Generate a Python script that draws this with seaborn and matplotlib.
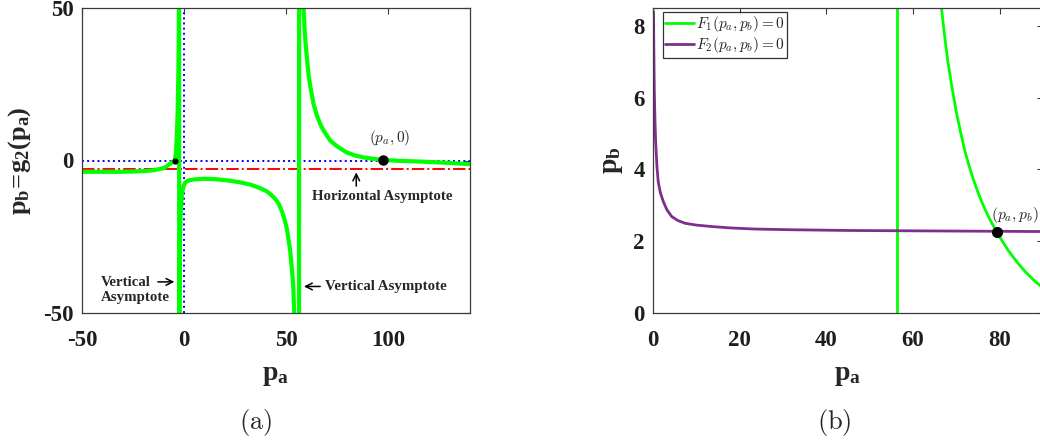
import matplotlib
matplotlib.use("Agg")
import matplotlib.pyplot as plt
from matplotlib.font_manager import FontProperties
import seaborn as sns
import pandas as pd

# ---------------- data ----------------
# panel (a): p_b = g2(p_a)
g2_pa = [-50, -40, -30, -20, -15, -10, -8.5, -6.5, -5.2, -4.6, -4.0, -3.6, -3.2,
         -2.8, -2.6, -2.45,
         -2.4, -2.3, -2.2, -2.0, -1.8, -1.6, -1.3, -1.0, -0.6, 0.0, 0.5, 1.2,
         2.0, 2.9, 5.0, 9.5, 15, 20.9, 27, 32.4, 37, 40.5, 42, 43.5, 44.5, 45.4,
         46.4, 47.2, 48.0, 48.7, 49.4, 50.0, 50.6, 51.1, 51.6, 52.0, 52.4, 52.8,
         53.2, 53.5, 53.9, 55.0, 56.2,
         56.4, 57.5, 58.5, 59.0, 59.5, 60.0, 60.9, 62, 63.4, 65, 66.7, 68, 69.5,
         71.6, 75, 79.7, 84, 87.9, 92, 97.4, 105, 117.3, 130, 140]
g2_pb = [-3.7, -3.7, -3.7, -3.5, -3.2, -2.5, -1.9, -0.9, -0.3, 0.0, 2.5, 7.4, 15,
         29, 42, 70,
         -90, -55, -40, -27, -20, -16, -12.8, -10.6, -9.2, -8.0, -7.3, -6.9,
         -6.6, -6.45, -6.2, -6.0, -6.1, -6.5, -7.1, -7.9, -9.0, -10.1, -10.9, -11.8, -12.5, -13.3,
         -14.3, -15.6, -16.8, -18.3, -19.9, -21.5, -23.5, -25.9, -28, -30, -32.8, -35.7,
         -39, -42, -50, -80, -300,
         300, 90, 50, 43, 38.3, 34.5, 28.3, 23.5, 18.5, 14.8, 11.9, 10.2, 8.6,
         6.5, 4.6, 2.6, 1.6, 1.0, 0.6, 0.2, -0.1, -0.4, -0.8, -1.2]
h_asymptote = -2.7
root_small = (-4.6, 0.0)
root_big = (97.4, 0.2)

# panel (b): F1 = 0 (vertical branch + curved branch) and F2 = 0
f1_vert_pa = [56.3, 56.3]
f1_vert_pb = [0.0, 8.5]
f1_curve_pa = [66.6, 67.3, 68, 69, 70, 71, 72, 73, 74, 75, 76, 77, 78, 79,
               80, 82, 84, 86, 88, 90]
f1_curve_pb = [8.46, 7.72, 7.05, 6.28, 5.6, 5.03, 4.5, 4.08, 3.7, 3.36, 3.06,
               2.79, 2.55, 2.33, 2.12, 1.74, 1.42, 1.14, 0.9, 0.7]
f2_pa = [0.12, 0.2, 0.3, 0.45, 0.6, 0.9, 1.2, 1.7, 2.4, 3.2, 4.3, 5.7, 7.4, 10,
         13.5, 18, 23.5, 32, 45, 60, 75, 90]
f2_pb = [8.4, 7.3, 6.2, 5.4, 4.8, 4.1, 3.66, 3.35, 3.10, 2.88, 2.69, 2.58, 2.50,
         2.45, 2.41, 2.37, 2.34, 2.32, 2.30, 2.29, 2.28, 2.27]
equilibrium = (79.4, 2.27)

# ---------------- style ----------------
sns.set_theme(style="white")
plt.rcParams["font.family"] = ["Liberation Serif", "DejaVu Serif"]
plt.rcParams["font.weight"] = "bold"
plt.rcParams["axes.unicode_minus"] = False
plt.rcParams["mathtext.fontset"] = "custom"
plt.rcParams["mathtext.rm"] = "Liberation Serif"
plt.rcParams["mathtext.it"] = "Liberation Serif:italic"
plt.rcParams["mathtext.bf"] = "Liberation Serif:bold"

GREEN = "#00ff00"
PURPLE = "#7e2f8e"
SPINE = "#3a3a3a"

W, H = 1040, 443
fig = plt.figure(figsize=(W / 100, H / 100), dpi=100)
ax1 = fig.add_axes([82 / W, 1 - 313 / H, 388 / W, 305 / H])
ax2 = fig.add_axes([653 / W, 1 - 313 / H, 390 / W, 305 / H])


def style_axes(ax):
    for s in ax.spines.values():
        s.set_color(SPINE)
        s.set_linewidth(0.9)
        s.set_visible(True)
    ax.tick_params(direction="in", length=4, width=0.8, color=SPINE,
                   top=True, right=True, labelsize=16.5, labelcolor="#1e1e1e")
    ax.tick_params(axis="x", pad=12)
    ax.tick_params(axis="y", pad=6)
    for lab in ax.get_xticklabels() + ax.get_yticklabels():
        lab.set_fontweight("bold")


# ---------------- panel (a) ----------------
dfa = pd.DataFrame({"pa": g2_pa, "pb": g2_pb})
sns.lineplot(data=dfa, x="pa", y="pb", ax=ax1, color=GREEN, lw=3.0,
             sort=False, estimator=None)
ax1.axhline(0, color="blue", ls=":", lw=1.4, zorder=1)
ax1.axvline(0, color="blue", ls=":", lw=1.4, zorder=1)
ax1.axhline(h_asymptote, color="red", ls="-.", lw=1.4, zorder=1)
ax1.plot(*root_small, "o", color="black", ms=3.5, zorder=5)
ax1.plot(*root_big, "o", color="black", ms=6.5, zorder=5)
ax1.set_xlim(-50, 140)
ax1.set_ylim(-50, 50)
ax1.set_xticks([-50, 0, 50, 100])
ax1.set_yticks([-50, 0, 50])
ax1.set_xlabel(r"$\mathbf{p_a}$", fontsize=20, labelpad=9)
ax1.set_ylabel(r"$\mathbf{p_b\!=\!g_2(p_a)}$", fontsize=19, labelpad=7)
style_axes(ax1)

ax1.text(100.5, 7.3, r"$(p_a,0)$", fontsize=11, ha="center", va="center",
         math_fontfamily="cm")
ax1.text(97, -11.8, "Horizontal Asymptote", fontsize=10.7, fontweight="bold",
         ha="center", va="center")
ax1.annotate("", xy=(84.3, -3.0), xytext=(84.3, -9.3),
             arrowprops=dict(arrowstyle="->", color="black", lw=1.1))
ax1.text(-40.7, -42.5, "Vertical\nAsymptote", fontsize=10.7, fontweight="bold",
         ha="left", va="center", linespacing=1.15)
ax1.annotate("", xy=(-3.4, -39.8), xytext=(-14.2, -39.8),
             arrowprops=dict(arrowstyle="->", color="black", lw=1.1))
ax1.text(69.0, -41.3, "Vertical Asymptote", fontsize=10.7, fontweight="bold",
         ha="left", va="center")
ax1.annotate("", xy=(57.3, -41.3), xytext=(68.0, -41.3),
             arrowprops=dict(arrowstyle="->", color="black", lw=1.1))

# ---------------- panel (b) ----------------
sns.lineplot(x=f1_vert_pa, y=f1_vert_pb, ax=ax2, color=GREEN, lw=2.0,
             sort=False, estimator=None, label=r"$F_1(p_a,p_b)=0$")
sns.lineplot(x=f1_curve_pa, y=f1_curve_pb, ax=ax2, color=GREEN, lw=2.0,
             sort=False, estimator=None)
sns.lineplot(x=f2_pa, y=f2_pb, ax=ax2, color=PURPLE, lw=2.0,
             sort=False, estimator=None, label=r"$F_2(p_a,p_b)=0$")
ax2.plot(*equilibrium, "o", color="black", ms=7, zorder=5)
ax2.text(equilibrium[0] - 1.4, 2.74, r"$(p_a,p_b)$", fontsize=11.2,
         ha="left", va="center", math_fontfamily="cm")
ax2.set_xlim(0, 90)
ax2.set_ylim(0, 8.5)
ax2.set_xticks([0, 20, 40, 60, 80])
ax2.set_yticks([0, 2, 4, 6, 8])
ax2.set_xlabel(r"$\mathbf{p_a}$", fontsize=20, labelpad=9)
ax2.set_ylabel(r"$\mathbf{p_b}$", fontsize=20, labelpad=6)
style_axes(ax2)

handles, labels = ax2.get_legend_handles_labels()
leg = ax2.legend(handles, labels, loc="upper left", bbox_to_anchor=(0.025, 0.988),
                 prop=FontProperties(size=11, math_fontfamily="cm"),
                 frameon=True, fancybox=False, edgecolor="black",
                 borderpad=0.15, handlelength=1.9, handletextpad=0.15,
                 labelspacing=0.1, borderaxespad=0.0)
leg.get_frame().set_linewidth(0.9)

# captions
fig.text(256 / W, 1 - 422 / H, r"$\mathrm{(a)}$", fontsize=19, ha="center",
         va="center", math_fontfamily="cm")
fig.text(834 / W, 1 - 422 / H, r"$\mathrm{(b)}$", fontsize=19, ha="center",
         va="center", math_fontfamily="cm")

fig.savefig("out.png", dpi=100)
